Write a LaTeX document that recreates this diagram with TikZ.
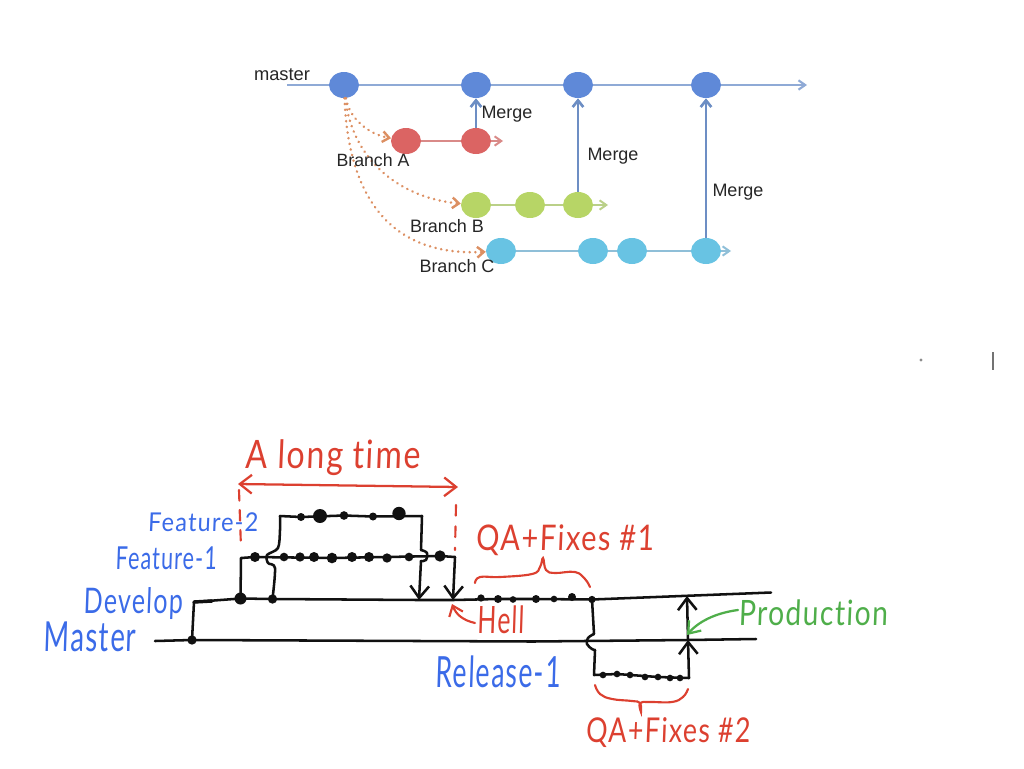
\documentclass[tikz,border=0pt]{standalone}
\usepackage{fontspec}
\usepackage{graphicx}
\setmainfont{Liberation Sans}
\newfontfamily\handfont[FakeSlant=0.05,Ligatures=NoCommon,LetterSpace=5]{Lato}
\usetikzlibrary{arrows.meta,shapes.geometric}
\newlength{\px}\setlength{\px}{0.75pt}
\newcommand{\hand}[3]{\resizebox*{#1\px}{#2\px}{\handfont #3}}
\definecolor{mblue}{HTML}{5F89D8}
\definecolor{lblue}{HTML}{8FAAD6}
\definecolor{dblue}{HTML}{6D8EC4}
\definecolor{bred}{HTML}{DB6463}
\definecolor{lred}{HTML}{D98A88}
\definecolor{bgreen}{HTML}{B7D566}
\definecolor{lgreen}{HTML}{BAD088}
\definecolor{bcyan}{HTML}{68C3E3}
\definecolor{lcyan}{HTML}{8FBFD8}
\definecolor{orng}{HTML}{DC8F62}
\definecolor{hblue}{HTML}{3B6BE8}
\definecolor{hred}{HTML}{DC4030}
\definecolor{hgreen}{HTML}{4FAE4A}
\definecolor{ink}{HTML}{111111}
\tikzset{
  commit/.style={ellipse,minimum width=22.5pt,minimum height=19.5pt,inner sep=0pt,draw=none},
  bluec/.style={commit,fill=mblue},
  redc/.style={commit,fill=bred},
  greenc/.style={commit,fill=bgreen},
  cyanc/.style={commit,fill=bcyan},
  lab/.style={inner sep=0pt,text=black!85,font=\fontsize{12.2}{14}\selectfont},
  mastline/.style={draw=lblue,line width=1.6pt},
  mergeline/.style={draw=dblue,line width=2pt,-{Straight Barb[length=5pt,width=8pt]}},
  tipped/.style={-{Straight Barb[length=5pt,width=7pt]}},
  branchline/.style={draw=orng,line width=2pt,line cap=round,dash pattern=on 0.1pt off 4.2pt,-{Straight Barb[length=5pt,width=8pt,line width=1.8pt]}},
  hline/.style={draw=ink,line width=1.9pt,line cap=round,line join=round},
  harrow/.style={hline,-{Straight Barb[length=9pt,width=14pt]}},
  hdot/.style={circle,fill=ink,inner sep=0pt,minimum size=#1},
  hdot/.default=5pt,
  hcorner/.style={inner sep=0pt,minimum size=0pt},
  hredline/.style={draw=hred,line width=1.6pt,line cap=round},
  htext/.style={inner sep=0pt}
}
\begin{document}
\begin{tikzpicture}[x=0.75pt,y=-0.75pt]
\useasboundingbox (0,0) rectangle (1024,768);
% === top: branch diagram ===
\node[bluec] (m1) at (344,85) {};
\node[bluec] (m2) at (476,85) {};
\node[bluec] (m3) at (578,85) {};
\node[bluec] (m4) at (706,85) {};
\coordinate (mstart) at (287,85);
\coordinate (mend) at (807,85);
\node[redc] (a1) at (406,141) {};
\node[redc] (a2) at (476,141) {};
\coordinate (aend) at (503,141);
\node[greenc] (b1) at (476,205) {};
\node[greenc] (b2) at (530,205) {};
\node[greenc] (b3) at (578,205) {};
\coordinate (bend) at (608,205);
\node[cyanc] (c1) at (501,251) {};
\node[cyanc] (c2) at (593,251) {};
\node[cyanc] (c3) at (632,251) {};
\node[cyanc] (c4) at (706,251) {};
\coordinate (cend) at (731,251);
\draw[mastline] (mstart) -- (m1);
\draw[mastline] (m1) -- (m2);
\draw[mastline] (m2) -- (m3);
\draw[mastline] (m3) -- (m4);
\draw[mastline,tipped] (m4) -- (mend);
\draw[draw=lred,line width=1.3pt] (a1) -- (a2);
\draw[draw=lred,line width=1.5pt,tipped] (a2) -- (aend);
\draw[draw=lgreen,line width=1.3pt] (b1) -- (b2);
\draw[draw=lgreen,line width=1.3pt] (b2) -- (b3);
\draw[draw=lgreen,line width=1.5pt,tipped] (b3) -- (bend);
\draw[draw=lcyan,line width=1.3pt] (c1) -- (c2);
\draw[draw=lcyan,line width=1.3pt] (c2) -- (c3);
\draw[draw=lcyan,line width=1.3pt] (c3) -- (c4);
\draw[draw=lcyan,line width=1.5pt,tipped] (c4) -- (cend);
\draw[mergeline] (a2) -- (m2);
\draw[mergeline] (b3) -- (m3);
\draw[mergeline] (c4) -- (m4);
\draw[branchline] (m1) .. controls (349,118) and (368,134) .. (a1);
\draw[branchline] (m1) .. controls (352,160) and (400,198) .. (b1);
\draw[branchline] (m1) .. controls (348,190) and (385,257) .. (c1);
\node[lab] (tmaster) at (282,75) {\resizebox{56\px}{!}{master}};
\node[lab] (ta) at (373,160) {\resizebox{73\px}{!}{Branch A}};
\node[lab] (tb) at (447,226) {\resizebox{74\px}{!}{Branch B}};
\node[lab] (tc) at (457,266) {\resizebox{75\px}{!}{Branch C}};
\node[lab] (tm1) at (507,114) {\resizebox{51\px}{!}{Merge}};
\node[lab] (tm2) at (613,156) {\resizebox{51\px}{!}{Merge}};
\node[lab] (tm3) at (738,192) {\resizebox{51\px}{!}{Merge}};
% === stray marks ===
\fill[black!45] (921,360) circle (1.2pt);
\draw[black!55,line width=0.9pt] (993,352) -- (993,370);
% === bottom: hand sketch ===
% master
\coordinate (hms) at (155,641);
\node[hdot=7pt] (hm0) at (192,640) {};
\coordinate (hm1) at (533,641.5);
\node[hcorner] (hmp) at (688,640) {};
\coordinate (hme) at (756,639);
\draw[hline] (hms) -- (hm0.center) -- (hm1) -- (hmp.center) -- (hme);
% develop
\coordinate (hdc) at (194,602);
\node[hdot=9pt] (hd1) at (240.5,598.5) {};
\node[hdot=7pt] (hd2) at (272.5,599) {};
\node[hcorner] (hd3) at (419,600) {};
\node[hcorner] (hd4) at (453,600) {};
\node[hdot=5.5pt] (q1) at (481,598) {};
\node[hdot=6pt] (q2) at (498,599) {};
\node[hdot=5pt] (q3) at (513,599.5) {};
\node[hdot=6pt] (q4) at (536,599) {};
\node[hdot=5pt] (q5) at (554,599) {};
\node[hdot=6pt] (q6) at (572,597) {};
\node[hdot=5.5pt] (q7) at (592,599.5) {};
\node[hcorner] (hd5) at (687,596) {};
\coordinate (hde) at (771,592.5);
\draw[hline] (hm0.center) -- (hdc) -- (hd1.center) -- (hd2.center) -- (hd3.center) -- (hd4.center) -- (q2.center) -- (q4.center) -- (q7.center) -- (hde);
\draw[hline,line width=2.6pt] (hdc) -- (212,601);
% feature 1
\coordinate (f1s) at (241,558);
\foreach \n/\x/\y/\s in {f1/255/557/7.5pt,f2/284/557/6.5pt,f3/300/557/7pt,f4/314/557/7.5pt,f5/332/558/8pt,f6/352/557/7.5pt,f7/369/557/7.5pt,f8/387/558/7pt,f9/409/557/6.5pt,f10/440/556/8.5pt}
  \node[hdot=\s] (\n) at (\x,\y) {};
\coordinate (f1e) at (455,557);
\draw[hline] (hd1.center) -- (f1s) -- (f1.center) -- (f5.center) -- (f10.center) -- (f1e);
\draw[harrow] (f1e) -- (hd4.center);
% feature 2
\coordinate (f2s) at (280,516);
\foreach \n/\x/\y/\s in {g1/301/517/6pt,g2/320/516/10.5pt,g3/344/515.5/6.5pt,g4/373/516.5/6pt,g5/399/513.5/10pt}
  \node[hdot=\s] (\n) at (\x,\y) {};
\coordinate (f2e) at (422,516);
\draw[hline] plot[smooth,tension=0.5] coordinates {(hd2.center) (275,568) (268,563) (267,555) (278,548) (280,530) (f2s)};
\draw[hline] (f2s) -- (g1.center) -- (g3.center) -- (g4.center) -- (f2e) -- (421,550);
\draw[hline] plot[smooth,tension=0.7] coordinates {(421,550) (427,553) (426,560) (421,561)};
\draw[harrow] (421,561) -- (hd3.center);
% release
\node[hdot=1.5pt] (r0) at (594,675) {};
\foreach \n/\x/\y in {r1/603/675,r2/617/674,r3/630/675,r4/645/677,r5/658/677,r6/670/678,r7/680/678}
  \node[hdot=5pt] (\n) at (\x,\y) {};
\node[hcorner] (re) at (689,678) {};
\draw[hline] (q7.center) -- (594,634);
\draw[hline] plot[smooth,tension=0.7] coordinates {(594,634) (588,638) (587,644) (592,649) (595,650)};
\draw[hline] (595,650) -- (r0.center) -- (r2.center) -- (r5.center) -- (re.center);
\draw[harrow] (re.center) -- (hmp.center);
\draw[harrow] (hmp.center) -- (hd5.center);
% red annotation
\coordinate (tl) at (238,484);
\coordinate (tr) at (458,487);
\draw[draw=hred,line width=1.7pt,line cap=round,{Straight Barb[length=9pt,width=14pt]}-{Straight Barb[length=9pt,width=14pt]}] (tl) -- (tr);
\draw[hredline,dash pattern=on 8pt off 7pt] (239,490) -- (241,548);
\draw[hredline,dash pattern=on 8pt off 8pt] (456,505) -- (455,550);
\draw[hredline] plot[smooth,tension=0.7] coordinates {(475,583) (480,577) (500,577) (532,574) (540,567) (543,558) (546,570) (555,573) (575,572) (585,579) (590,587)};
\draw[hredline] plot[smooth,tension=0.7] coordinates {(595,685) (600,694) (612,699) (632,701) (640,703) (641,712) (640,703) (650,702) (672,702) (683,697) (688,689)};
\coordinate (hellt) at (452,604);
\coordinate (hells) at (475,623);
\draw[hredline,-{Straight Barb[length=7pt,width=11pt]}] (hells) .. controls (462,620) and (456,614) .. (hellt);
% labels
\node[htext,text=hred] (tlong) at (333,458) {\hand{174}{36}{A long time}};
\node[htext,text=hblue] (tf2) at (203,522) {\hand{110}{19}{Feature-2}};
\node[htext,text=hblue] (tf1) at (166,558) {\hand{101}{23}{Feature-1}};
\node[htext,text=hblue] (tdev) at (133,604) {\hand{99}{32}{Develop}};
\node[htext,text=hblue] (tmas) at (90,637) {\hand{92}{30}{Master}};
\node[htext,text=hblue] (trel) at (498,672) {\hand{125}{32}{Release-1}};
\node[htext,text=hred] (thell) at (501,620) {\hand{47}{28}{Hell}};
\node[htext,text=hred] (tq1) at (565,540) {\hand{178}{31}{QA+Fixes \#1}};
\node[htext,text=hred] (tq2) at (668,733) {\hand{164}{30}{QA+Fixes \#2}};
\node[htext,text=hgreen] (tprod) at (813,613) {\hand{149}{26}{Production}};
\coordinate (prodt) at (687,635);
\coordinate (prods) at (738,610);
\draw[draw=hgreen,line width=1.7pt,line cap=round,-{Straight Barb[length=8pt,width=12pt]}] (prods) .. controls (715,613) and (698,622) .. (prodt);
\end{tikzpicture}
\end{document}
